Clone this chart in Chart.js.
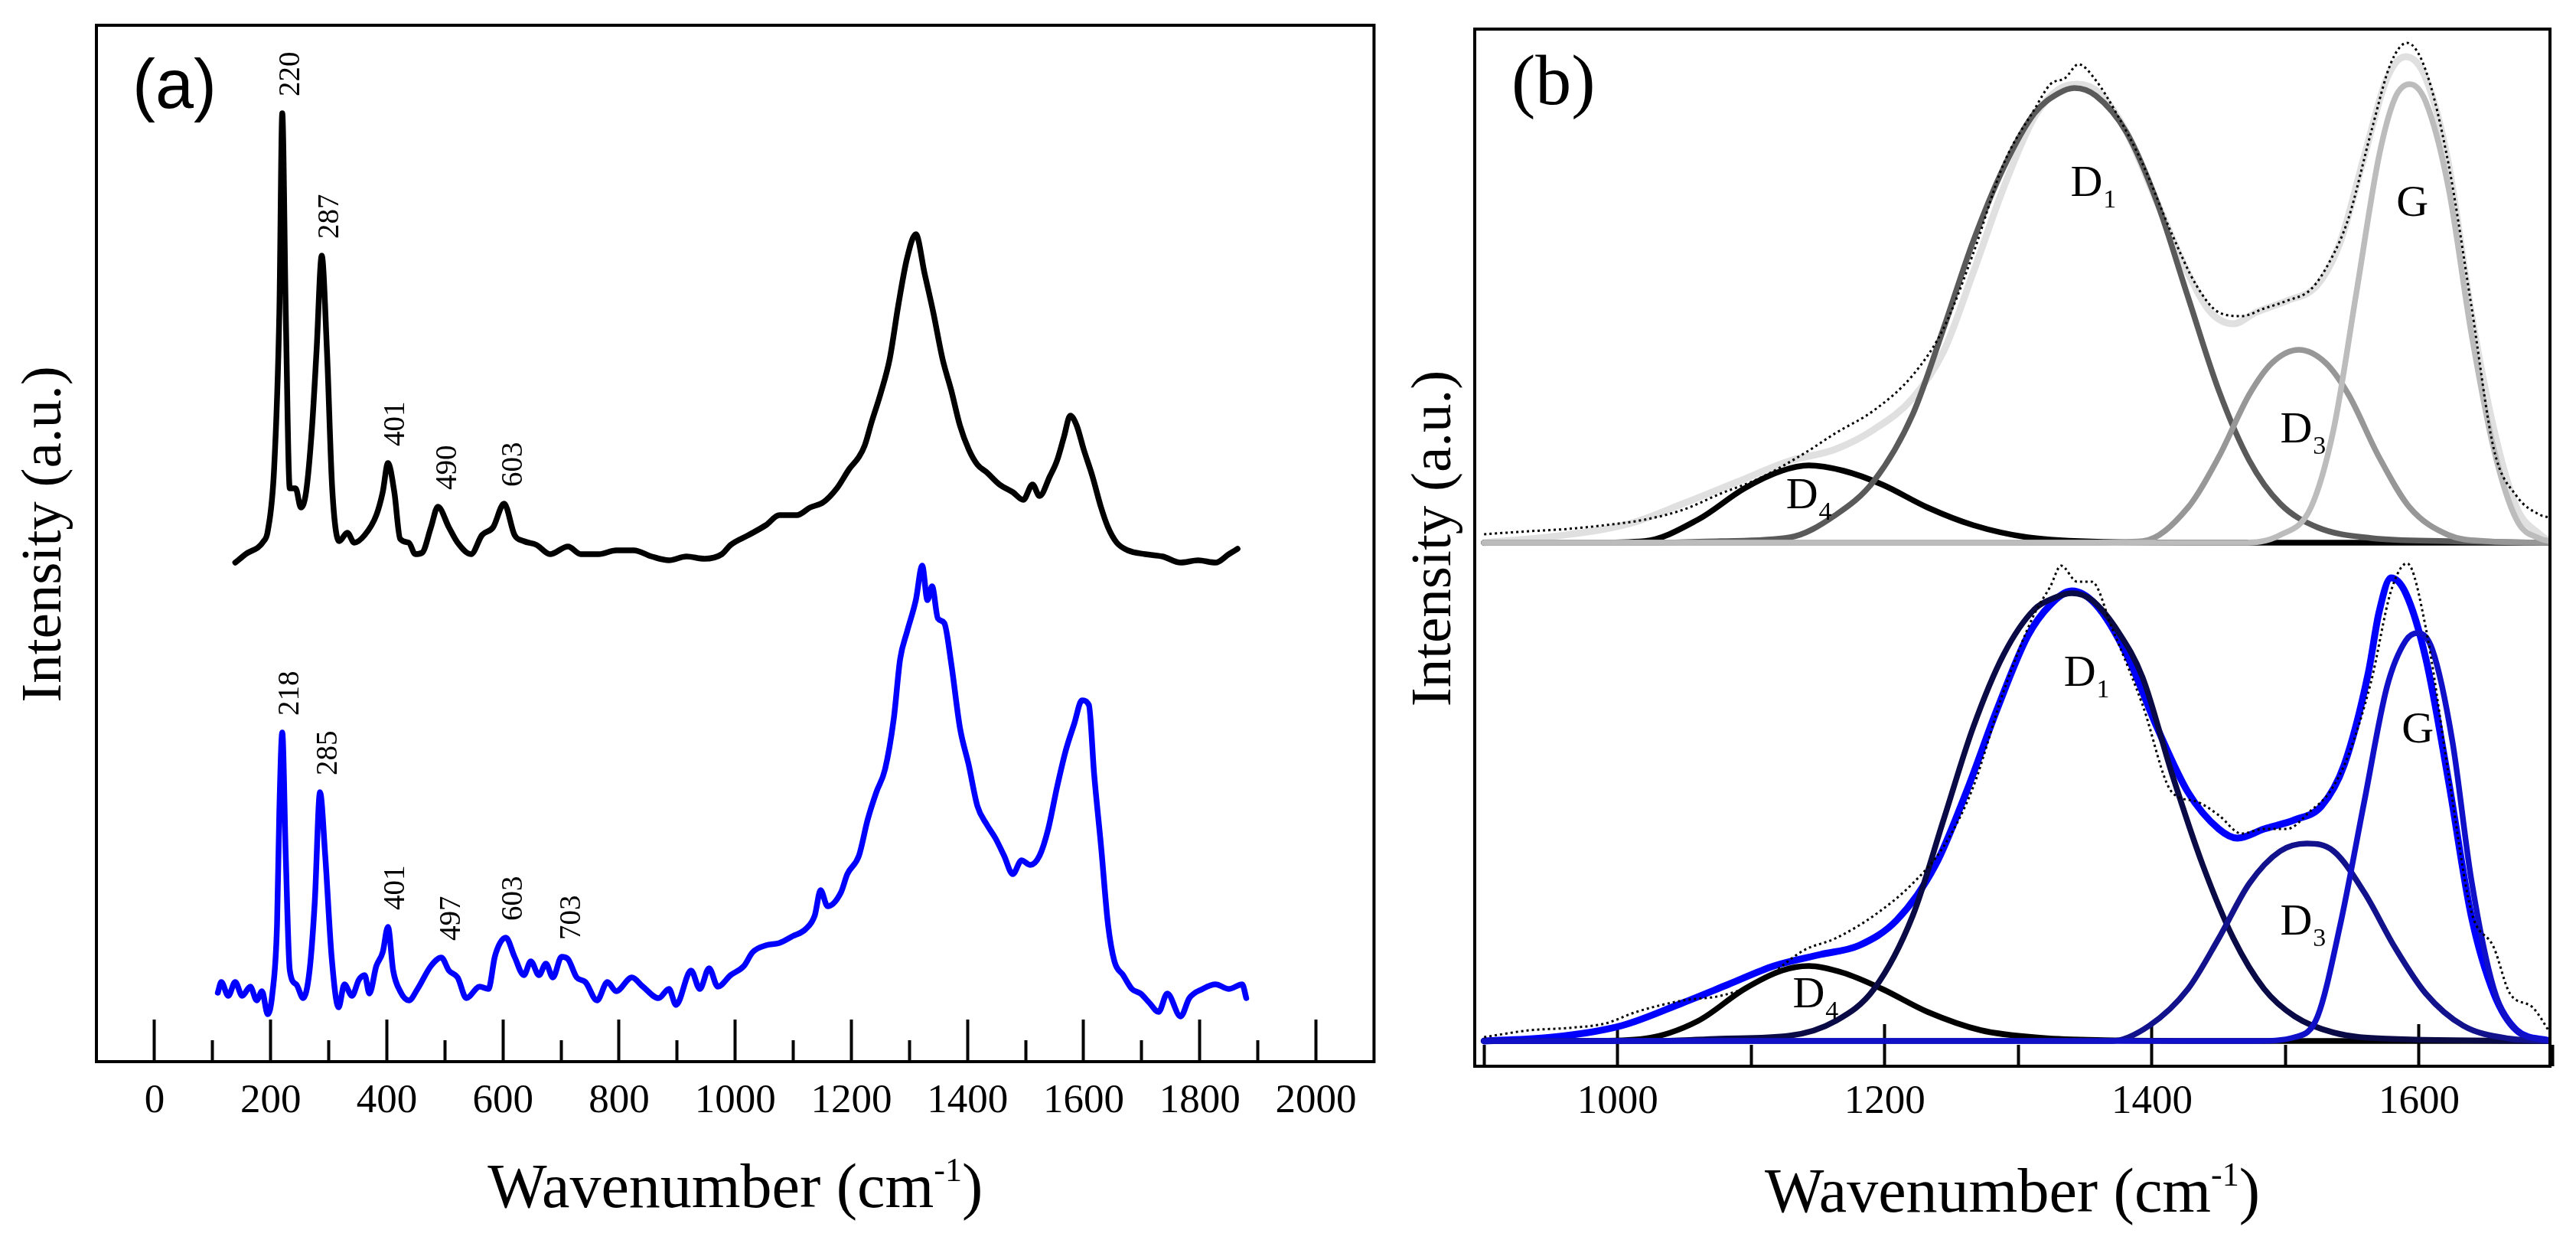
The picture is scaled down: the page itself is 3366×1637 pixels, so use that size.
<!DOCTYPE html>
<html>
<head>
<meta charset="utf-8">
<script src="https://cdn.jsdelivr.net/npm/chart.js@4.4.1/dist/chart.umd.min.js"></script>
<style>
html, body { margin: 0; padding: 0; background: #fff; }
#wrap { position: relative; width: 3366px; height: 1637px; overflow: hidden; background: #fff; }
canvas { position: absolute; top: 0; }
#left { left: 0; }
#right { left: 1800px; }
</style>
</head>
<body>
<div id="wrap">
  <canvas id="left" width="1850" height="1637"></canvas>
  <canvas id="right" width="1566" height="1637"></canvas>
</div>
<script>
// ---- data (wavenumber, intensity a.u.) ----

// panel (a): black spectrum (upper) and blue spectrum (lower)
const blackSpectrum = [[139,652],[157,663],[188,680],[195,693],[206,775],[215,979],[220,1239],[226,979],[233,749],
  [243,749],[252,724],[261,744],[271,826],[279,928],[288,1053],[297,928],[306,749],[318,680],[332,691],[344,678],
  [362,688],[382,714],[393,744],[402,782],[413,744],[423,683],[438,678],[449,663],[461,665],[476,698],[488,725],
  [507,698],[522,678],[545,663],[564,688],[583,698],[602,729],[620,688],[636,680],[658,675],[681,663],[712,673],
  [734,663],[765,663],[795,668],[825,668],[856,660],[886,655],[916,660],[947,657],[977,663],[992,675],[1023,688],
  [1053,701],[1076,714],[1106,714],[1129,724],[1152,731],[1175,749],[1197,775],[1213,790],[1223,805],[1235,836],
  [1250,872],[1266,918],[1281,989],[1296,1050],[1311,1081],[1326,1030],[1341,979],[1357,918],[1372,877],[1387,831],
  [1402,800],[1417,780],[1433,770],[1455,754],[1478,744],[1496,734],[1512,754],[1524,739],[1542,765],[1554,785],
  [1566,816],[1577,844],[1588,831],[1600,800],[1615,765],[1630,724],[1642,698],[1657,678],[1676,668],[1706,663],
  [1736,660],[1767,652],[1797,655],[1827,652],[1850,663],[1865,670]];

const blueSpectrum = [[109,90],[115,104],[127,86],[139,104],[151,86],[165,98],[176,80],[185,92],[195,62],[203,89],
  [211,179],[215,328],[220,430],[226,269],[233,119],[244,101],[256,83],[267,119],[276,209],[285,352],[294,269],
  [305,137],[317,71],[327,101],[340,86],[352,107],[362,113],[370,89],[382,125],[393,143],[402,176],[411,119],
  [423,92],[438,80],[453,95],[476,125],[494,136],[507,119],[522,110],[537,83],[560,98],[575,95],[586,137],[595,155],
  [605,162],[620,137],[636,113],[648,131],[662,113],[674,128],[686,110],[701,137],[712,134],[727,110],[742,104],
  [762,80],[780,104],[795,92],[822,110],[841,98],[868,83],[886,95],[898,74],[924,119],[939,95],[955,122],[970,98],
  [992,113],[1015,125],[1030,143],[1053,152],[1076,155],[1099,164],[1121,173],[1137,191],[1147,224],[1159,203],
  [1182,221],[1193,245],[1213,269],[1228,316],[1243,352],[1258,382],[1273,448],[1284,526],[1296,562],[1311,603],
  [1322,648],[1331,603],[1339,621],[1349,579],[1360,573],[1372,520],[1387,436],[1402,388],[1417,334],[1433,310],
  [1448,292],[1463,269],[1478,245],[1493,263],[1508,257],[1524,269],[1539,304],[1554,358],[1569,406],[1584,442],
  [1597,472],[1609,466],[1618,376],[1630,281],[1642,179],[1653,131],[1668,113],[1683,95],[1698,89],[1713,77],
  [1729,65],[1744,89],[1767,59],[1782,83],[1805,95],[1827,101],[1850,95],[1873,101],[1880,83]];

const blackPeaks = [220, 287, 401, 490, 603];
const bluePeaks = [218, 285, 401, 497, 603, 703];

// panel (b), upper fit (grey)
const topRaw = [[900,11],[934,15],[963,18],[991,23],[1020,30],[1049,43],[1077,64],[1106,84],[1140,117],[1163,143],
  [1192,173],[1221,219],[1244,280],[1266,377],[1289,495],[1312,566],[1324,599],[1335,607],[1345,625],[1358,604],
  [1375,556],[1393,495],[1415,403],[1433,337],[1450,301],[1467,296],[1484,306],[1501,316],[1519,331],[1533,367],
  [1547,423],[1564,536],[1579,627],[1591,653],[1605,617],[1622,495],[1639,311],[1656,122],[1673,61],[1691,36],[1698,33]];
const topSum = [[900,0],[951,8],[1009,25],[1049,51],[1089,79],[1129,107],[1163,122],[1192,148],[1221,189],[1244,250],
  [1266,352],[1289,464],[1312,556],[1330,592],[1344,599],[1361,587],[1381,536],[1404,444],[1427,352],[1444,301],
  [1461,286],[1478,301],[1501,316],[1524,337],[1541,393],[1559,505],[1576,607],[1590,635],[1605,607],[1622,495],
  [1639,301],[1656,148],[1673,46],[1691,10],[1698,2]];
const topD4 = [[900,0],[980,0],[1020,2],[1060,30],[1095,71],[1123,94],[1143,101],[1169,94],[1198,76],[1232,46],
  [1266,23],[1307,7],[1364,1],[1450,0],[1698,0]];
const topD1 = [[900,0],[1030,0],[1077,2],[1129,7],[1163,36],[1192,81],[1221,168],[1244,280],[1266,393],[1289,490],
  [1312,561],[1330,587],[1342,594],[1358,584],[1381,536],[1404,444],[1427,321],[1450,199],[1473,107],[1496,51],
  [1524,20],[1564,6],[1622,2],[1698,0]];
const topD3 = [[900,0],[1350,0],[1393,2],[1427,46],[1450,112],[1473,194],[1490,235],[1510,252],[1530,235],[1547,194],
  [1570,112],[1593,46],[1622,10],[1650,2],[1698,0]];
const topG = [[900,0],[1440,0],[1467,0],[1496,10],[1519,46],[1536,148],[1553,326],[1570,505],[1582,581],[1593,599],
  [1605,576],[1622,464],[1639,275],[1656,122],[1673,30],[1691,5],[1698,2]];

// panel (b), lower fit (blue)
const botRaw = [[900,5],[934,14],[963,17],[991,23],[1014,38],[1049,53],[1077,59],[1106,77],[1140,119],[1163,134],
  [1192,164],[1221,206],[1244,254],[1266,331],[1289,457],[1312,558],[1324,594],[1332,621],[1344,600],[1355,600],
  [1370,540],[1393,439],[1415,325],[1433,313],[1450,295],[1467,271],[1484,277],[1501,277],[1519,301],[1533,325],
  [1547,373],[1564,469],[1579,588],[1591,624],[1605,540],[1622,349],[1639,170],[1656,122],[1668,62],[1685,44],[1698,11]];
const botSum = [[900,0],[951,5],[1003,20],[1049,50],[1083,74],[1117,98],[1152,113],[1181,125],[1209,158],[1238,230],
  [1261,325],[1284,433],[1307,529],[1324,570],[1340,588],[1358,570],[1381,505],[1404,409],[1427,325],[1450,277],
  [1464,265],[1484,277],[1507,289],[1527,307],[1544,361],[1562,481],[1570,560],[1579,605],[1590,585],[1605,500],
  [1622,340],[1639,164],[1656,62],[1673,14],[1698,0]];
const botD4 = [[900,0],[980,0],[1020,3],[1060,26],[1095,68],[1123,92],[1143,98],[1169,89],[1198,68],[1232,38],
  [1272,14],[1318,4],[1364,1],[1450,0],[1698,0]];
const botD1 = [[900,0],[1030,0],[1077,3],[1129,7],[1163,26],[1192,68],[1221,164],[1244,289],[1266,409],[1289,505],
  [1312,564],[1327,579],[1340,585],[1355,576],[1375,534],[1393,475],[1415,349],[1438,230],[1461,134],[1484,68],
  [1507,32],[1536,11],[1576,3],[1698,0]];
const botD3 = [[900,0],[1370,0],[1398,20],[1427,68],[1450,134],[1473,206],[1496,248],[1516,258],[1536,248],[1559,194],
  [1582,122],[1605,62],[1633,20],[1668,3],[1698,0]];
const botG = [[900,0],[1478,0],[1507,5],[1524,32],[1541,152],[1559,313],[1576,463],[1590,523],[1599,533],[1610,511],
  [1625,391],[1639,212],[1656,68],[1673,14],[1698,0]];

// axis ticks
const leftMajorTicks = [0, 200, 400, 600, 800, 1000, 1200, 1400, 1600, 1800, 2000];
const leftMinorTicks = [100, 300, 500, 700, 900, 1100, 1300, 1500, 1700, 1900];
const rightMajorTicks = [1000, 1200, 1400, 1600];
const rightMinorTicks = [900, 1100, 1300, 1500, 1700];

// band names placed on the fits
const bandLabels = [
  { name: 'D', sub: '1', x: 1351, y: 472, axis: 'yTop' },
  { name: 'G', sub: '',  x: 1595, y: 446, axis: 'yTop' },
  { name: 'D', sub: '3', x: 1508, y: 150, axis: 'yTop' },
  { name: 'D', sub: '4', x: 1138, y: 64,  axis: 'yTop' },
  { name: 'D', sub: '1', x: 1346, y: 483, axis: 'yBot' },
  { name: 'G', sub: '',  x: 1599, y: 409, axis: 'yBot' },
  { name: 'D', sub: '3', x: 1508, y: 158, axis: 'yBot' },
  { name: 'D', sub: '4', x: 1143, y: 63,  axis: 'yBot' }
];

const SERIF = "'Liberation Serif', 'Times New Roman', serif";
const SANS = "'Liberation Sans', Arial, sans-serif";

function line(points, color, width, yAxisID, dash) {
  return {
    data: points.map(p => ({ x: p[0], y: p[1] })),
    borderColor: color,
    borderWidth: width,
    borderDash: dash || [],
    borderCapStyle: dash ? 'butt' : 'round',
    borderJoinStyle: 'round',
    pointRadius: 0,
    fill: false,
    cubicInterpolationMode: 'monotone',
    yAxisID: yAxisID
  };
}

function majorAxis(min, max, ticks, height, pad) {
  return {
    type: 'linear', position: 'bottom', weight: 1, min: min, max: max,
    afterBuildTicks: s => { s.ticks = ticks.map(v => ({ value: v })); },
    afterFit: s => { s.height = height; },
    border: { display: false },
    grid: { display: true, drawOnChartArea: false, drawTicks: true, tickLength: -55, tickWidth: 4, tickColor: '#000' },
    ticks: { autoSkip: false, maxRotation: 0, padding: pad, color: '#000',
             font: { family: SERIF, size: 53 }, callback: v => String(v) }
  };
}

function minorAxis(min, max, ticks) {
  return {
    type: 'linear', position: 'bottom', weight: 0, min: min, max: max,
    afterBuildTicks: s => { s.ticks = ticks.map(v => ({ value: v })); },
    afterFit: s => { s.height = 0; },
    border: { display: false },
    grid: { display: true, drawOnChartArea: false, drawTicks: true, tickLength: -28, tickWidth: 4, tickColor: '#000' },
    ticks: { display: false }
  };
}

function drawFrame(chart) {
  const ctx = chart.ctx, a = chart.chartArea;
  ctx.save();
  ctx.strokeStyle = '#000';
  ctx.lineWidth = 4;
  ctx.strokeRect(a.left, a.top, a.right - a.left, a.bottom - a.top);
  ctx.restore();
}

function drawXTitle(chart) {
  const ctx = chart.ctx, a = chart.chartArea;
  const main = 'Wavenumber (cm', sup = '-1', tail = ')';
  ctx.save();
  ctx.fillStyle = '#000';
  ctx.textAlign = 'left';
  ctx.textBaseline = 'alphabetic';
  ctx.font = '82px ' + SERIF;
  const w1 = ctx.measureText(main).width, w3 = ctx.measureText(tail).width;
  ctx.font = '44px ' + SERIF;
  const w2 = ctx.measureText(sup).width;
  let x = (a.left + a.right) / 2 - (w1 + w2 + w3) / 2;
  const y = a.bottom + 190;
  ctx.font = '82px ' + SERIF; ctx.fillText(main, x, y); x += w1;
  ctx.font = '44px ' + SERIF; ctx.fillText(sup, x, y - 34); x += w2;
  ctx.font = '82px ' + SERIF; ctx.fillText(tail, x, y);
  ctx.restore();
}

function drawYTitle(chart, cx) {
  const ctx = chart.ctx, a = chart.chartArea;
  ctx.save();
  ctx.fillStyle = '#000';
  ctx.translate(cx, (a.top + a.bottom) / 2 - 12);
  ctx.rotate(-Math.PI / 2);
  ctx.textAlign = 'center';
  ctx.textBaseline = 'middle';
  ctx.font = '75px ' + SERIF;
  ctx.fillText('Intensity (a.u.)', 0, 0);
  ctx.restore();
}

function peakTop(points, wn) {
  let best = -Infinity;
  points.forEach(p => { if (Math.abs(p[0] - wn) <= 12 && p[1] > best) best = p[1]; });
  return best;
}

function drawPeakLabels(chart, points, peaks) {
  const ctx = chart.ctx, xs = chart.scales.x, ys = chart.scales.y;
  ctx.save();
  ctx.fillStyle = '#000';
  ctx.font = '39px ' + SERIF;
  ctx.textAlign = 'left';
  ctx.textBaseline = 'middle';
  peaks.forEach(wn => {
    const px = xs.getPixelForValue(wn) + 12;
    const py = ys.getPixelForValue(peakTop(points, wn)) - 22;
    ctx.save();
    ctx.translate(px, py);
    ctx.rotate(-Math.PI / 2);
    ctx.fillText(String(wn), 0, 0);
    ctx.restore();
  });
  ctx.restore();
}

const leftDecor = {
  id: 'leftDecor',
  afterDraw(chart) {
    const ctx = chart.ctx, a = chart.chartArea;
    drawFrame(chart);
    drawPeakLabels(chart, blackSpectrum, blackPeaks);
    drawPeakLabels(chart, blueSpectrum, bluePeaks);
    ctx.save();
    ctx.fillStyle = '#000';
    ctx.textAlign = 'left';
    ctx.textBaseline = 'alphabetic';
    ctx.font = '90px ' + SANS;
    ctx.fillText('(a)', a.left + 47, a.top + 108);
    ctx.restore();
    drawYTitle(chart, a.left - 67);
    drawXTitle(chart);
  }
};

const rightDecor = {
  id: 'rightDecor',
  afterDraw(chart) {
    const ctx = chart.ctx, a = chart.chartArea, xs = chart.scales.x;
    drawFrame(chart);
    ctx.save();
    ctx.fillStyle = '#000';
    ctx.textBaseline = 'alphabetic';
    ctx.textAlign = 'left';
    ctx.font = '94px ' + SERIF;
    ctx.fillText('(b)', a.left + 48, a.top + 98);
    bandLabels.forEach(l => {
      const px = xs.getPixelForValue(l.x);
      const py = chart.scales[l.axis].getPixelForValue(l.y);
      ctx.font = '58px ' + SERIF;
      const w = ctx.measureText(l.name).width;
      ctx.textAlign = 'center';
      ctx.fillText(l.name, px, py + 19);
      if (l.sub) {
        ctx.textAlign = 'left';
        ctx.font = '34px ' + SERIF;
        ctx.fillText(l.sub, px + w / 2 + 1, py + 34);
      }
    });
    ctx.restore();
    drawYTitle(chart, a.left - 52);
    drawXTitle(chart);
  }
};

Chart.defaults.font.family = SERIF;

new Chart(document.getElementById('left'), {
  type: 'line',
  data: {
    datasets: [
      line(blackSpectrum, '#000000', 7.5, 'y'),
      line(blueSpectrum, '#0000ff', 7.5, 'y')
    ]
  },
  options: {
    responsive: false, animation: false, devicePixelRatio: 1,
    layout: { padding: { left: 126, top: 33, right: 1850 - 1797, bottom: 0 } },
    plugins: { legend: { display: false }, tooltip: { enabled: false } },
    scales: {
      x: majorAxis(-100, 2100, leftMajorTicks, 250, 75),
      xMinor: minorAxis(-100, 2100, leftMinorTicks),
      y: { type: 'linear', display: false, min: 0, max: 1354 }
    }
  },
  plugins: [leftDecor]
});

new Chart(document.getElementById('right'), {
  type: 'line',
  data: {
    datasets: [
      line(topRaw, '#000000', 3, 'yTop', [3, 4]),
      line(topG, '#bcbcbc', 7.5, 'yTop'),
      line(topD3, '#979797', 7.5, 'yTop'),
      line(topD1, '#5a5a5a', 7.5, 'yTop'),
      line(topD4, '#000000', 7.5, 'yTop'),
      line(topSum, '#e0e0e0', 9, 'yTop'),
      line(botRaw, '#000000', 3, 'yBot', [3, 4]),
      line(botG, '#1010c8', 7.5, 'yBot'),
      line(botD3, '#12128c', 7.5, 'yBot'),
      line(botD1, '#0a0a46', 7.5, 'yBot'),
      line(botD4, '#000000', 7.5, 'yBot'),
      line(botSum, '#0000ff', 9, 'yBot')
    ]
  },
  options: {
    responsive: false, animation: false, devicePixelRatio: 1,
    layout: { padding: { left: 127, top: 38, right: 34, bottom: 0 } },
    plugins: { legend: { display: false }, tooltip: { enabled: false } },
    scales: {
      x: majorAxis(893, 1698, rightMajorTicks, 244, 70),
      xMinor: minorAxis(893, 1698, rightMinorTicks),
      yTop: { type: 'linear', axis: 'y', display: false, min: -684, max: 671 },
      yBot: { type: 'linear', axis: 'y', display: false, min: -33, max: 1322 }
    }
  },
  plugins: [rightDecor]
});
</script>
</body>
</html>
